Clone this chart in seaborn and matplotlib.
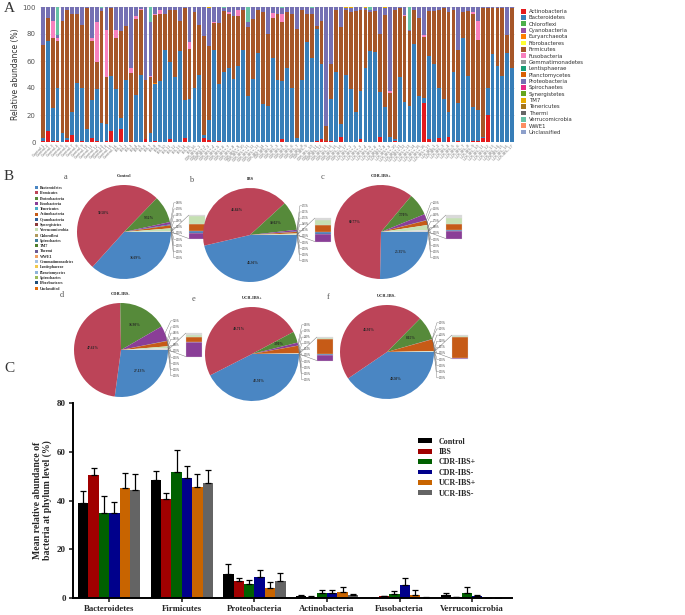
import numpy as np
import pandas as pd
import matplotlib
matplotlib.use("Agg")
import matplotlib.pyplot as plt
import seaborn as sns
from matplotlib.patches import Patch

sns.set_style("white")
plt.rcParams['font.family'] = ['DejaVu Sans']

W, H = 685, 615
fig = plt.figure(figsize=(6.85, 6.15), dpi=100)


def box(x0, y0, x1, y1):
    return [x0 / W, 1 - y1 / H, (x1 - x0) / W, (y1 - y0) / H]


# ---------------- Panel A data ----------------
group_names = ["Control", "IBS", "CDR-IBS+", "CDR-IBS-", "UCR-IBS+", "UCR-IBS-"]
group_sizes = [16, 16, 14, 17, 17, 17]
samples = [f"{g}-{i + 1}" for g, n in zip(group_names, group_sizes) for i in range(n)]

act = [1, 8, 0.5, 0.5, 0, 1.5, 5, 0, 1, 0,
       3, 1, 0, 1, 8.5, 0, 10, 0, 1, 0,
       0, 2, 0, 1, 0, 0, 2, 0, 0, 3,
       0, 0, 0, 3, 1.5, 0, 1, 0, 0, 0,
       0, 0, 0, 0, 0, 0, 0, 0, 0, 2,
       0, 0, 0, 0, 0, 0, 1, 2.5, 1, 1,
       0, 4, 0, 0, 0, 2.5, 0, 0, 0, 4,
       0, 0, 1, 0, 0, 0, 0, 0, 29, 2,
       0, 3, 0, 4, 0, 1, 0, 0, 1, 1,
       3, 20, 0, 0, 0, 0, 0]
bac = [2, 67, 24.5, 39.5, 7, 1.5, 17, 44, 39, 10,
       28, 38, 14, 12, 40.5, 39, 8, 46, 0, 35,
       50, 0, 7, 42, 45, 68, 57.5, 48, 67.5, 28,
       32, 40, 50, 2, 14.5, 68, 42, 52, 55, 47,
       56, 68, 34, 47, 66, 28, 27, 62, 46, 43,
       55, 40, 3, 46, 74, 62, 82.5, 55.5, 0, 31,
       52, 9.5, 50, 39, 22.5, 35.5, 54.5, 67.5, 67, 33,
       26, 4, 1, 48, 30, 27, 72.5, 34, 3.5, 62,
       58, 37, 32, 18, 52, 28, 77, 49, 25, 23,
       1, 20, 65, 56, 49, 66, 55]
eury = [0] * 23 + [1] + [0] * 73
fir = [69, 17, 52, 35, 83, 94.5, 73, 51, 47, 89,
       44, 20, 83, 35, 50, 38, 64, 40, 50, 56,
       47.5, 44, 41, 50, 50, 27, 38.5, 49.5, 22.5, 68,
       37, 56.5, 37, 73.5, 55, 20, 45, 45, 40, 46,
       37, 29.5, 51, 44, 31.5, 68, 53, 29.5, 49, 44,
       41, 55, 81, 52, 21, 33, 2.5, 32, 11, 26,
       46, 71.5, 48, 57.5, 74.5, 60, 43.5, 29, 30, 43,
       68, 32, 95.5, 51, 63, 55, 25.5, 58, 45.5, 33,
       39, 57.5, 67, 74, 46, 39, 19, 48, 69, 51.5,
       95.5, 59.5, 34, 43, 50, 13, 44]
fus = [0, 0, 13, 2, 0, 0, 0, 0, 0, 0,
       2, 30, 0, 35, 0, 6, 0, 0, 4, 2,
       1, 0, 1, 1, 3, 0, 0, 0, 0, 0,
       5, 0, 0, 0, 0, 1, 0, 0, 1, 0,
       4.5, 0, 0, 0, 0, 0, 0, 4, 0, 6,
       0, 0, 0, 0, 0, 0, 0, 0, 0, 0,
       0, 0, 0, 0, 0, 0, 0, 0, 0, 0,
       0, 1.5, 0, 0, 1, 0, 0, 0, 1, 0,
       0, 0, 0, 0, 0, 0, 0, 0, 1, 14.5,
       0, 0, 0, 0, 0, 0, 0]
pro = [28, 8, 10, 2, 10, 2.5, 5, 5, 13, 1,
       23, 11, 2, 17, 1, 17, 18, 14, 45, 7,
       1.5, 54, 40, 5, 2, 5, 2, 2.5, 10, 1,
       26, 3.5, 13, 21.5, 28, 11, 12, 2, 4, 7,
       2.5, 2.5, 4, 9, 2.5, 4, 20, 4.5, 5, 4,
       4, 5, 16, 2, 5, 4, 14, 10, 88, 42,
       2, 15, 1, 2.5, 3, 2, 1, 1.5, 3, 20,
       5, 62.5, 2.5, 1, 6, 1, 2, 8, 21, 3,
       3, 2.5, 1, 4, 2, 32, 4, 3, 4, 10,
       0.5, 0.5, 1, 1, 1, 21, 1]
tm7 = [0] * 34 + [1] + [0] * 27 + [1, 1, 0, 0, 1, 0, 0, 0, 1] + [0] * 26
ver = [0, 0, 0, 21, 0, 0, 0, 0, 0, 0,
       0, 0, 1, 0, 0, 0, 0, 0, 0, 0,
       0, 0, 11, 0, 0, 0, 0, 0, 0, 0,
       0, 0, 0, 0, 0, 0, 0, 1, 0, 0,
       0, 0, 11, 0, 0, 0, 0, 0, 0, 1,
       0, 0, 0, 0, 0, 1, 0, 0, 0, 0,
       0, 0, 0, 0, 0, 0, 0, 2, 0, 0,
       0, 0, 0, 0, 0, 17, 0, 0, 0, 0,
       0, 0, 0, 0, 0, 0, 0, 0, 0, 0,
       0, 0, 0, 0, 0, 0, 0]

legend_phyla = ["Actinobacteria", "Bacteroidetes", "Chloroflexi", "Cyanobacteria",
                "Euryarchaeota", "Fibrobacteres", "Firmicutes", "Fusobacteria",
                "Gemmatimonadetes", "Lentisphaerae", "Planctomycetes", "Proteobacteria",
                "Spirochaetes", "Synergistetes", "TM7", "Tenericutes", "Thermi",
                "Verrucomicrobia", "WWE1", "Unclassified"]
legend_colors = ["#E41A1C", "#377EB8", "#4DAF4A", "#984EA3", "#FF7F00", "#FFFF33",
                 "#A65628", "#F781BF", "#999999", "#1B9E77", "#D95F02", "#7570B3",
                 "#E7298A", "#66A61E", "#E6AB02", "#A6761D", "#666666", "#66C2A5",
                 "#FC8D62", "#8DA0CB"]
pcol = dict(zip(legend_phyla, legend_colors))

axA = fig.add_axes(box(40, 7, 515, 142))
x = np.arange(len(samples))
bottom = np.zeros(len(samples))
for name, vals in [("Actinobacteria", act), ("Bacteroidetes", bac), ("Euryarchaeota", eury),
                   ("Firmicutes", fir), ("Fusobacteria", fus), ("Proteobacteria", pro),
                   ("TM7", tm7), ("Verrucomicrobia", ver)]:
    v = np.array(vals, float)
    axA.bar(x, v, bottom=bottom, width=0.78, color=pcol[name], linewidth=0, zorder=2)
    bottom += v
axA.set_xlim(-0.6, len(samples) - 0.4)
axA.set_ylim(0, 100)
axA.set_yticks([0, 20, 40, 60, 80, 100])
axA.tick_params(axis='y', labelsize=5, colors='#555555', length=2, width=0.5, pad=1)
axA.set_xticks(x)
axA.set_xticklabels(samples, rotation=45, ha='right', rotation_mode='anchor',
                    fontsize=2.6, color='#777777')
axA.tick_params(axis='x', length=0, pad=1)
axA.grid(axis='y', color='#E2E2E2', lw=0.5, zorder=0)
axA.set_axisbelow(True)
for s in axA.spines.values():
    s.set_visible(False)
axA.set_ylabel("Relative abundance (%)", fontsize=5.5, color='#333333', labelpad=2)
handles = [Patch(facecolor=c, edgecolor='none') for c in legend_colors]
fig.legend(handles, legend_phyla, loc='upper left', bbox_to_anchor=(518 / W, 1 - 6 / H),
           frameon=False, fontsize=3.9, handlelength=1.0, handleheight=1.0,
           labelspacing=0.2, handletextpad=0.5, borderpad=0, labelcolor='#333333')

serif = "Liberation Serif"
fig.text(4 / W, 1 - 2 / H, "A", fontsize=11, family=serif, color='#333333', va='top')
fig.text(4 / W, 1 - 170 / H, "B", fontsize=11, family=serif, color='#333333', va='top')
fig.text(4 / W, 1 - 362 / H, "C", fontsize=11, family=serif, color='#333333', va='top')

# ---------------- Panel B data ----------------
pie_order = ["Bacteroidetes", "Firmicutes", "Proteobacteria", "Fusobacteria",
             "Tenericutes", "Actinobacteria", "Verrucomicrobia", "Other"]
pie_colors = ["#4A86C3", "#BC4458", "#568A3A", "#8A3E97", "#3C6FB0", "#C65B17",
              "#C5E0B2", "#D9D9D9"]
pie_control = [36.69, 50.58, 9.32, 0.80, 0.30, 1.05, 1.06, 0.20]
pie_ibs = [46.36, 41.84, 10.02, 0.55, 0.15, 0.55, 0.40, 0.13]
pie_cdr_pos = [25.35, 60.77, 7.70, 2.10, 0.10, 1.60, 1.70, 0.68]
pie_cdr_neg = [27.13, 47.61, 16.90, 5.20, 0.10, 1.80, 0.60, 0.66]
pie_ucr_pos = [42.50, 49.71, 3.90, 1.00, 0.05, 2.60, 0.10, 0.14]
pie_ucr_neg = [40.50, 46.90, 8.15, 0.05, 0.05, 4.00, 0.20, 0.15]
pie_titles = ["Control", "IBS", "CDR-IBS+", "CDR-IBS-", "UCR-IBS+", "UCR-IBS-"]
pie_letters = ["a", "b", "c", "d", "e", "f"]
pie_data = [pie_control, pie_ibs, pie_cdr_pos, pie_cdr_neg, pie_ucr_pos, pie_ucr_neg]

pie_legend_names = ["Bacteroidetes", "Firmicutes", "Proteobacteria", "Fusobacteria",
                    "Tenericutes", "Actinobacteria", "Cyanobacteria", "Synergistetes",
                    "Verrucomicrobia", "Chloroflexi", "Spirochaetes", "TM7", "Thermi",
                    "WWE1", "Gemmatimonadetes", "Lentisphaerae", "Planctomycetes",
                    "Spirochaetes", "Fibrobacteres", "Unclassified"]
pie_legend_colors = ["#4A86C3", "#BC4458", "#568A3A", "#8A3E97", "#4BACC6", "#C65B17",
                     "#2E5F99", "#8C3B3B", "#C5E0B2", "#B09A5C", "#3E7E9C", "#4F7F2A",
                     "#6B5B95", "#F0A060", "#A4C2E4", "#F2C94C", "#8FB3D9", "#9BBB59",
                     "#1F4E79", "#E46C0A"]

centers = [(124, 232), (250, 235), (381, 232), (121, 350), (252, 354), (387, 352)]
R = 47
for k, (vals, (cx, cy)) in enumerate(zip(pie_data, centers)):
    ax = fig.add_axes(box(cx - 1.05 * R, cy - 1.05 * R, cx + 1.8 * R, cy + 1.05 * R))
    wedges, _ = ax.pie(vals, colors=pie_colors, startangle=0, counterclock=False,
                       radius=1, wedgeprops=dict(linewidth=0))
    ax.set_xlim(-1.05, 1.8)
    ax.set_ylim(-1.05, 1.05)
    ax.set_aspect('auto')
    ax.set_axis_off()
    # main labels
    for w, v in zip(wedges[:3], vals[:3]):
        th = np.deg2rad((w.theta1 + w.theta2) / 2)
        ax.text(0.6 * np.cos(th), 0.6 * np.sin(th), f"{v:.2f}%", fontsize=2.6,
                family=serif, weight='bold', ha='center', va='center')
    # leader labels for small slices
    ys = np.linspace(0.62, -0.55, 10)
    for j, yy in enumerate(ys):
        idx = 3 + (j % 5)
        w = wedges[idx]
        th = np.deg2rad((w.theta1 + w.theta2) / 2)
        ex, ey = np.cos(th), np.sin(th)
        ax.plot([ex, 1.06, 1.1], [ey, yy, yy], color='#555555', lw=0.25)
        val = vals[idx] if j < 5 else 0.0
        ax.text(1.11, yy, f"{val:.2f}%", fontsize=1.8, family=serif, va='center')
    # inset stacked bar of small slices
    small = np.array(vals[3:], float)
    scale = 0.5 / small.sum()
    b0 = -0.14
    for v, c in zip(small, pie_colors[3:]):
        ax.bar(1.55, v * scale, bottom=b0, width=0.34, color=c, linewidth=0.2,
               edgecolor='#DDDDDD')
        b0 += v * scale
    ax.plot([1.0, 1.38], [0.0, b0], color='#777777', lw=0.35)
    ax.plot([1.0, 1.38], [0.0, -0.14], color='#777777', lw=0.35)
    fig.text(cx / W, 1 - (cy - 1.2 * R) / H, pie_titles[k], fontsize=3.2, family=serif,
             weight='bold', ha='center', va='center')
    fig.text((cx - 1.25 * R) / W, 1 - (cy - 1.17 * R) / H, pie_letters[k], fontsize=6,
             family=serif, color='#555555', ha='center', va='center')

ph = [Patch(facecolor=c, edgecolor='none') for c in pie_legend_colors]
fig.legend(ph, pie_legend_names, loc='upper left', bbox_to_anchor=(33 / W, 1 - 184 / H),
           frameon=False, handlelength=0.8, handleheight=0.8,
           labelspacing=0.32, handletextpad=0.4, borderpad=0,
           prop=dict(family=serif, size=2.9, weight='bold'))

# ---------------- Panel C data ----------------
phyla_c = ["Bacteroidetes", "Firmicutes", "Proteobacteria", "Actinobacteria",
           "Fusobacteria", "Verrucomicrobia"]
groups_c = ["Control", "IBS", "CDR-IBS+", "CDR-IBS-", "UCR-IBS+", "UCR-IBS-"]
colors_c = ["#000000", "#A00000", "#006000", "#00008B", "#C86400", "#646464"]
mean_control = [39.0, 48.3, 9.8, 0.9, 0.1, 1.1]
mean_ibs = [50.3, 40.5, 7.0, 0.5, 0.7, 0.4]
mean_cdr_pos = [34.7, 51.8, 5.7, 2.0, 1.5, 2.1]
mean_cdr_neg = [35.0, 49.4, 8.8, 2.0, 5.5, 0.8]
mean_ucr_pos = [45.3, 45.6, 4.2, 2.4, 1.4, 0.1]
mean_ucr_neg = [44.5, 47.0, 6.9, 1.2, 0.2, 0.1]
err_control = [5.0, 4.0, 4.3, 0.5, 0.1, 1.0]
err_ibs = [2.9, 2.7, 1.2, 0.3, 0.3, 0.2]
err_cdr_pos = [7.3, 9.1, 1.7, 1.2, 1.5, 2.3]
err_cdr_neg = [4.2, 4.9, 2.5, 1.2, 2.9, 0.6]
err_ucr_pos = [6.1, 5.4, 2.4, 2.2, 1.7, 0.1]
err_ucr_neg = [6.3, 5.7, 3.3, 0.6, 0.1, 0.1]
means = [mean_control, mean_ibs, mean_cdr_pos, mean_cdr_neg, mean_ucr_pos, mean_ucr_neg]
errs = [err_control, err_ibs, err_cdr_pos, err_cdr_neg, err_ucr_pos, err_ucr_neg]

dfc = pd.DataFrame([(p, g, m) for g, ms in zip(groups_c, means) for p, m in zip(phyla_c, ms)],
                   columns=["phylum", "group", "mean"])

axC = fig.add_axes(box(73, 403, 512, 598))
sns.barplot(data=dfc, x="phylum", y="mean", hue="group", order=phyla_c, hue_order=groups_c,
            palette=colors_c, errorbar=None, width=0.86, saturation=1, ax=axC,
            linewidth=0, legend=False)
for cont, er in zip(axC.containers, errs):
    for bar, e in zip(cont, er):
        xc = bar.get_x() + bar.get_width() / 2
        axC.errorbar(xc, bar.get_height(), yerr=[[0], [e]], fmt='none', ecolor='black',
                     elinewidth=0.9, capsize=2.2, capthick=0.9, zorder=3)
axC.set_ylim(0, 80)
axC.set_xlim(-0.5, 5.55)
axC.set_yticks([0, 20, 40, 60, 80])
sns.despine(ax=axC)
for s in ["left", "bottom"]:
    axC.spines[s].set_linewidth(1.4)
    axC.spines[s].set_color('black')
axC.tick_params(axis='y', length=3, width=1.2, labelsize=6.5, pad=2, left=True)
axC.tick_params(axis='x', length=3, width=1.2, labelsize=6.3, pad=2, bottom=True)
for lab in axC.get_xticklabels() + axC.get_yticklabels():
    lab.set_family(serif)
    lab.set_weight('bold')
axC.set_xlabel("")
axC.set_ylabel("Mean relative abundance of\nbacteria at phylum level (%)", fontsize=7,
               family=serif, weight='bold', labelpad=4, linespacing=1.0)
hc = [Patch(facecolor=c, edgecolor='none') for c in colors_c]
axC.legend(hc, groups_c, loc='upper left', bbox_to_anchor=(0.77, 0.86), frameon=False,
           handlelength=1.7, handleheight=0.55, labelspacing=0.3, handletextpad=0.8,
           prop=dict(family=serif, weight='bold', size=5.8))

fig.savefig("out.png", dpi=100)
